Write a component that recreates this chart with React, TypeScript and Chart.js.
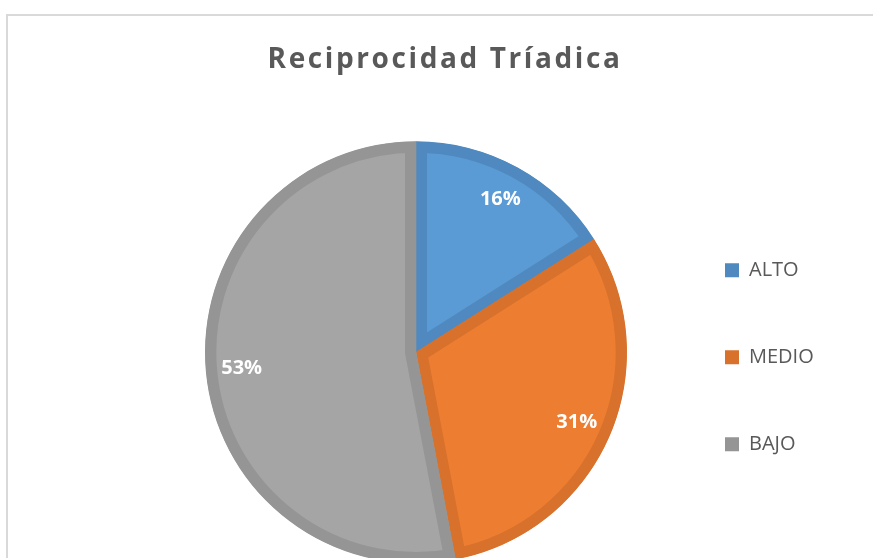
import React, { useEffect, useRef } from 'react';
import { Chart, registerables } from 'chart.js';

Chart.register(...registerables);

const TITLE = 'Reciprocidad Tríadica';
const categories = ['ALTO', 'MEDIO', 'BAJO'];
const values = [16, 31, 53];
const fillColors = ['#5B9BD5', '#ED7D31', '#A5A5A5'];
const borderColors = ['#4F89BF', '#D8712B', '#959595'];
const FONT = "'Open Sans', 'DejaVu Sans', sans-serif";
const TEXT_COLOR = '#595959';

const titleSpacing = {
  id: 'titleSpacing',
  afterInit(chart: any) {
    const tb = chart.titleBlock;
    if (!tb || tb.__wrapped) return;
    const orig = tb.draw.bind(tb);
    tb.draw = (area: any) => {
      const ctx = chart.ctx;
      ctx.save();
      ctx.letterSpacing = '2.6px';
      orig(area);
      ctx.restore();
    };
    tb.__wrapped = true;
  },
};

const sliceLabels = {
  id: 'sliceLabels',
  afterDatasetsDraw(chart: any) {
    const ctx = chart.ctx;
    const meta = chart.getDatasetMeta(0);
    const data: number[] = chart.data.datasets[0].data;
    const total = data.reduce((a, b) => a + b, 0);
    ctx.save();
    ctx.font = `bold 20px ${FONT}`;
    ctx.fillStyle = '#FFFFFF';
    ctx.textAlign = 'center';
    ctx.textBaseline = 'middle';
    meta.data.forEach((arc: any, i: number) => {
      const { x, y, startAngle, endAngle, outerRadius } = arc.getProps(
        ['x', 'y', 'startAngle', 'endAngle', 'outerRadius'],
        true
      );
      const mid = (startAngle + endAngle) / 2;
      const r = outerRadius * 0.83;
      ctx.fillText(
        Math.round((data[i] / total) * 100) + '%',
        x + Math.cos(mid) * r,
        y + Math.sin(mid) * r
      );
    });
    ctx.restore();
  },
};

export default function App() {
  const canvasRef = useRef<HTMLCanvasElement | null>(null);

  useEffect(() => {
    if (!canvasRef.current) return;
    const chart = new Chart(canvasRef.current, {
      type: 'pie',
      data: {
        labels: categories,
        datasets: [
          {
            data: values,
            backgroundColor: fillColors,
            borderColor: borderColors,
            borderWidth: 11,
            borderAlign: 'inner',
            radius: 211,
          } as any,
        ],
      },
      options: {
        responsive: false,
        animation: false,
        layout: { padding: { left: 0, right: 20, top: 0, bottom: 0 } },
        plugins: {
          title: {
            display: true,
            text: TITLE,
            color: TEXT_COLOR,
            font: { family: FONT, size: 28, weight: 'bold', lineHeight: 1.2 },
            padding: { top: 43, bottom: 10 },
          },
          subtitle: {
            display: true,
            text: '',
            position: 'left',
            font: { size: 10, lineHeight: 1 },
            padding: { top: 46, bottom: 46 },
          },
          legend: {
            position: 'right',
            fullSize: false,
            maxWidth: 160,
            title: { display: true, text: '', font: { size: 10, lineHeight: 1 }, padding: 0 },
            labels: {
              boxWidth: 14,
              boxHeight: 14,
              padding: 67,
              color: TEXT_COLOR,
              font: { family: FONT, size: 20 },
              generateLabels: () =>
                categories.map((c, i) => ({
                  text: c,
                  fillStyle: borderColors[i],
                  strokeStyle: borderColors[i],
                  lineWidth: 0,
                  hidden: false,
                  index: i,
                  fontColor: TEXT_COLOR,
                })),
            },
          },
          tooltip: { enabled: false },
        },
      } as any,
      plugins: [titleSpacing, sliceLabels],
    });
    return () => chart.destroy();
  }, []);

  return (
    <div
      style={{
        position: 'fixed',
        left: 0,
        top: 0,
        width: 873,
        height: 558,
        overflow: 'hidden',
        background: '#FFFFFF',
      }}
    >
      <div
        style={{
          position: 'absolute',
          left: 6,
          top: 14,
          width: 2000,
          height: 2000,
          borderTop: '2px solid #D9D9D9',
          borderLeft: '2px solid #D9D9D9',
        }}
      />
      <div style={{ position: 'absolute', left: 72, top: 0, width: 766, height: 618 }}>
        <canvas ref={canvasRef} width={766} height={618} style={{ width: 766, height: 618, display: 'block' }} />
      </div>
    </div>
  );
}
